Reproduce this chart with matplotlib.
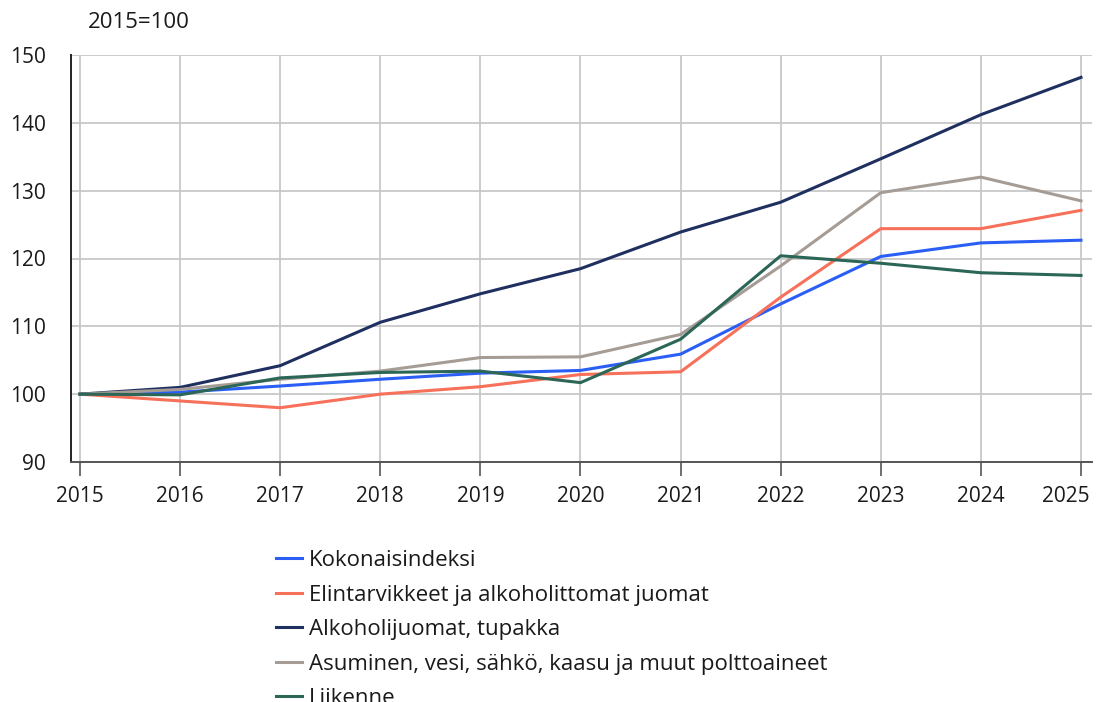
import matplotlib
matplotlib.use("Agg")
import matplotlib.pyplot as plt
import matplotlib.transforms as mtransforms

years = [2015, 2016, 2017, 2018, 2019, 2020, 2021, 2022, 2023, 2024, 2025]
labels = ["Kokonaisindeksi",
          "Elintarvikkeet ja alkoholittomat juomat",
          "Alkoholijuomat, tupakka",
          "Asuminen, vesi, sähkö, kaasu ja muut polttoaineet",
          "Liikenne"]
kokonais = [100, 100.3, 101.2, 102.2, 103.1, 103.5, 105.9, 113.3, 120.3, 122.3, 122.7]
elintarvikkeet = [100, 99.0, 98.0, 100.0, 101.1, 102.9, 103.3, 114.3, 124.4, 124.4, 127.1]
alkoholi = [100, 101.0, 104.2, 110.6, 114.8, 118.5, 123.9, 128.3, 134.7, 141.2, 146.7]
asuminen = [100, 100.7, 102.2, 103.4, 105.4, 105.5, 108.8, 118.9, 129.7, 132.0, 128.5]
liikenne = [100, 99.9, 102.4, 103.2, 103.4, 101.7, 108.1, 120.4, 119.3, 117.9, 117.5]
series = [kokonais, elintarvikkeet, alkoholi, asuminen, liikenne]
colors = ["#2a5ef5", "#f7705a", "#1f3060", "#a59c96", "#2b6656"]
yticks = [90, 100, 110, 120, 130, 140, 150]

plt.rcParams['font.family'] = ['Open Sans', 'DejaVu Sans']

fig = plt.figure(figsize=(11, 7.02), dpi=100)
ax = fig.add_axes([71/1100, 1 - 462/702, (1092 - 71)/1100, (462 - 55)/702])

for s, c, l in zip(series, colors, labels):
    ax.plot(years, s, color=c, lw=2.2, label=l, solid_joinstyle='round')

ax.set_xlim(2015 - 0.09, 2025 + 0.11)
ax.set_ylim(90, 150)
ax.set_xticks(years)
ax.set_yticks(yticks)
ax.grid(True, color="#c8c8c8", lw=1.3)
ax.set_axisbelow(True)
for sp in ["top", "right"]:
    ax.spines[sp].set_visible(False)
ax.spines["left"].set_color("#222222")
ax.spines["left"].set_linewidth(1.4)
ax.spines["bottom"].set_color("#555555")
ax.spines["bottom"].set_linewidth(1.4)
ax.tick_params(axis="x", length=10, width=1.2, color="#555555", pad=7, labelsize=15, labelcolor="#1a1a1a")
ax.tick_params(axis="y", length=0, pad=18, labelsize=15, labelcolor="#1a1a1a")

fig.canvas.draw()
last = ax.get_xticklabels()[-1]
last.set_ha("right")
last.set_transform(last.get_transform() + mtransforms.ScaledTranslation(9/100, 0, fig.dpi_scale_trans))

fig.text(88/1100, 1 - 22/702, "2015=100", fontsize=16, color="#1a1a1a", va="center", ha="left")

leg = fig.legend(loc="upper left", bbox_to_anchor=(276/1100, 1 - 550/702), frameon=False,
                 fontsize=16, handlelength=1.17, handletextpad=0.32, labelspacing=0.61,
                 borderaxespad=0, borderpad=0)
for line in leg.get_lines():
    line.set_linewidth(2.2)
for t in leg.get_texts():
    t.set_color("#1a1a1a")

fig.savefig("out.png", dpi=100)
